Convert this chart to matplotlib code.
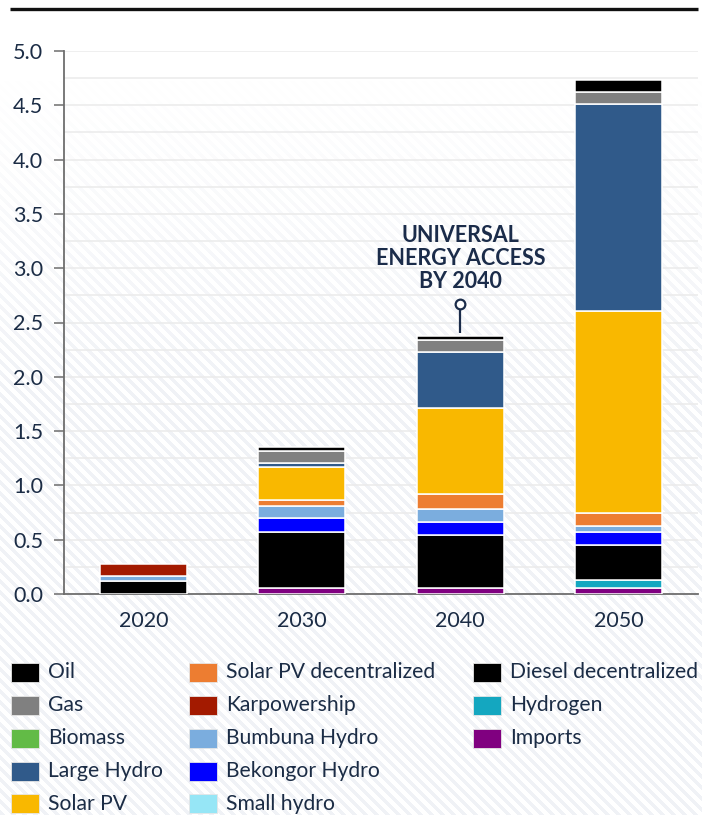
import numpy as np
import matplotlib
matplotlib.use("Agg")
import matplotlib.pyplot as plt
from matplotlib.patches import Rectangle

plt.rcParams['font.family'] = ['Lato', 'DejaVu Sans']

# ---- data -----------------------------------------------------------------
years = ["2020", "2030", "2040", "2050"]

# legend order (column-major, 5 rows)
sources = ["Oil", "Gas", "Biomass", "Large Hydro", "Solar PV",
           "Solar PV decentralized", "Karpowership", "Bumbuna Hydro",
           "Bekongor Hydro", "Small hydro", "Diesel decentralized",
           "Hydrogen", "Imports"]

oil = [0.0, 0.04, 0.037, 0.117]
gas = [0.0, 0.108, 0.111, 0.11]
biomass = [0.0, 0.0, 0.0, 0.0]
large_hydro = [0.0, 0.035, 0.521, 1.90]
solar_pv = [0.0, 0.306, 0.793, 1.865]
solar_pv_dec = [0.0, 0.057, 0.137, 0.114]
karpowership = [0.11, 0.0, 0.0, 0.0]
bumbuna = [0.052, 0.11, 0.117, 0.06]
bekongor = [0.0, 0.125, 0.117, 0.121]
small_hydro = [0.0, 0.0, 0.0, 0.0]
diesel_dec = [0.117, 0.52, 0.489, 0.321]
hydrogen = [0.0, 0.0, 0.0, 0.072]
imports = [0.0, 0.052, 0.058, 0.055]

series = [oil, gas, biomass, large_hydro, solar_pv, solar_pv_dec,
          karpowership, bumbuna, bekongor, small_hydro, diesel_dec,
          hydrogen, imports]

colors = ["#000000", "#808080", "#62bb46", "#305a8a", "#f9b800",
          "#ed7d31", "#a31a00", "#7badde", "#0000ff", "#96e6f6",
          "#000000", "#14a7c0", "#800080"]

y_ticks = [0.0, 0.5, 1.0, 1.5, 2.0, 2.5, 3.0, 3.5, 4.0, 4.5, 5.0]
note_text = "UNIVERSAL\nENERGY ACCESS\nBY 2040"
note_year = "2040"

TEXT = "#1b2c45"
W, H = 702, 815

fig = plt.figure(figsize=(W / 100, H / 100), dpi=100)
fig.patch.set_facecolor("white")

# ---- faint diagonal striped backdrop ---------------------------------------
bg = fig.add_axes([0, 0, 1, 1], zorder=-10)
bg.set_axis_off()
yy, xx = np.mgrid[0:H, 0:W]
stripe = ((xx - yy) % 11) < 5
fade = np.clip((yy - 80) / 300.0, 0, 1)
shade = stripe * fade
base = np.ones((H, W, 3))
tint = np.array([0.945, 0.952, 0.968])
img = base - shade[..., None] * (1 - tint)[None, None, :]
bg.imshow(img, extent=(0, W, H, 0), aspect="auto", interpolation="nearest")
bg.set_xlim(0, W)
bg.set_ylim(H, 0)
# heavy rule across the top
bg.plot([10, 698], [9, 9], color="#111111", lw=2.4, solid_capstyle="butt")

# ---- chart ------------------------------------------------------------------
ax = fig.add_axes([64 / W, 1 - 594 / H, 634 / W, 543 / H])
ax.set_facecolor("none")
x = np.arange(len(years))
bottom = np.zeros(len(years))
# stack from the bottom: reverse of legend order
for vals, col in zip(series[::-1], colors[::-1]):
    v = np.array(vals, dtype=float)
    m = v > 0
    ax.bar(x[m], v[m], bottom=bottom[m], width=0.55, color=col,
           edgecolor="white", linewidth=1.1, zorder=3)
    bottom += v

ax.set_xlim(-0.5, len(years) - 0.5)
ax.set_ylim(0, 5.0)
ax.set_xticks(x)
ax.set_xticklabels(years)
ax.set_yticks(y_ticks)
ax.set_yticklabels([f"{t:.1f}" for t in y_ticks])
ax.set_yticks(np.arange(0.25, 5.0, 0.5), minor=True)
ax.tick_params(axis="y", which="major", length=7, width=1.1, color="#6e6e6e",
               labelsize=15.5, labelcolor=TEXT, pad=8)
ax.tick_params(axis="y", which="minor", length=0)
ax.tick_params(axis="x", length=0, labelsize=15.5, labelcolor=TEXT, pad=12)
ax.grid(axis="y", which="both", color="#ebebeb", lw=1.1, zorder=0)
for s in ("top", "right"):
    ax.spines[s].set_visible(False)
for s in ("left", "bottom"):
    ax.spines[s].set_color("#6e6e6e")
    ax.spines[s].set_linewidth(1.3)

# annotation on the 2040 bar
xi = years.index(note_year)
top = bottom[xi]
ax.plot([xi, xi], [top + 0.02, 2.63], color="#1b2c4a", lw=1.6, zorder=4,
        solid_capstyle="butt")
ax.plot([xi], [2.67], marker="o", ms=7, mfc="white", mec="#1b2c4a", mew=1.6,
        zorder=5)
ax.text(xi, 3.09, note_text, ha="center", va="center", fontsize=15.5,
        fontweight="bold", color="#1b2c4a", linespacing=1.12, zorder=5)

# ---- legend -------------------------------------------------------------------
col_x = [11, 189, 473]
row_y = [672.5, 705, 738, 771, 803.5]
for i, (name, col) in enumerate(zip(sources, colors)):
    c, r = divmod(i, 5)
    sx, sy = col_x[c], row_y[r]
    bg.add_patch(Rectangle((sx, sy - 9.5), 28, 19, facecolor=col,
                           edgecolor="#e6e6e6", lw=0.6, zorder=2))
    bg.text(sx + 37, sy, name, ha="left", va="center", fontsize=15.2,
            color=TEXT, zorder=2)

fig.savefig("out.png", dpi=100)
